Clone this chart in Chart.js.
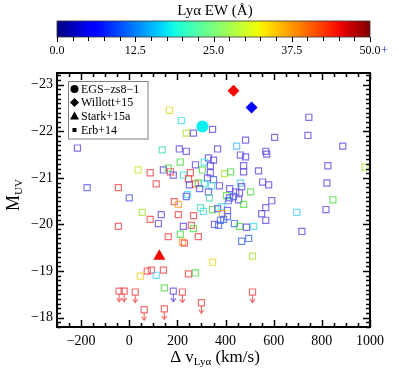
<!DOCTYPE html>
<html>
<head>
<meta charset="utf-8">
<script src="https://cdn.jsdelivr.net/npm/chart.js@4.4.1/dist/chart.umd.min.js"></script>
<style>
  html, body { margin: 0; padding: 0; background: #fff; }
  #wrap { width: 399px; height: 369px; }
</style>
</head>
<body>
<div id="wrap"><canvas id="chart" width="399" height="369"></canvas></div>
<script>
"use strict";

// Erb+14 detections: velocity offset (km/s), M_UV, Lya EW (A)
const erbDv = [
	-215, 167, 217, 237, 267, 346, 137, 208, 237, 212, 367, 746, 483, 604, 742, 887,
	446, 462, 483, 567, 571, 329, 350, 312, 275, 337, 304, 337, 396, 421, 475, 475,
	537, 825, 979, 37, 87, 142, 162, 171, 183, 225, 254, -175, -45, 112, 0, 246,
	250, 275, 287, 325, 350, 312, 342, 375, 292, 329, 333, 417, 442, 462, 467, 458,
	504, 554, 579, 821, 404, 417, 433, 412, 454, 475, 592, 567, 846, 242, 237, 187,
	204, 296, 308, 346, 367, 383, 408, 387, 408, 550, 696, 817, 54, 133, 204, 267,
	87, 121, -45, 225, 258, 267, 354, 371, 379, 392, 437, 458, 487, 517, 567, 717,
	162, 212, 221, 229, 287, 467, 496, 346, 512, 75, 92, 142, 46, 112, 246, 275, 146
];
const erbMuv = [
	-21.64, -22.45, -22.23, -21.96, -21.96, -22.04, -21.60, -21.62, -21.57, -21.34, -21.62, -22.30, -21.81, -21.87, -21.91, -21.68,
	-21.68, -21.49, -21.45, -21.57, -21.51, -21.43, -21.38, -21.34, -21.28, -21.26, -21.17, -21.11, -21.09, -21.13, -21.26, -21.13,
	-21.15, -21.26, -21.23, -21.17, -21.11, -21.17, -21.21, -21.13, -21.06, -21.06, -21.11, -20.79, -20.79, -20.87, -20.57, -20.98,
	-20.85, -20.87, -20.89, -21.00, -20.96, -20.87, -20.83, -20.83, -20.77, -20.70, -20.57, -20.77, -20.70, -20.89, -20.81, -20.68,
	-20.70, -20.91, -20.85, -20.89, -20.62, -20.57, -20.60, -20.51, -20.53, -20.43, -20.51, -20.36, -20.53, -20.64, -20.60, -20.49,
	-20.43, -20.36, -20.28, -20.32, -20.34, -20.38, -20.30, -20.23, -20.17, -20.23, -20.26, -20.32, -20.26, -20.21, -20.21, -20.19,
	-20.11, -20.02, -19.96, -19.96, -19.98, -19.91, -20.00, -19.98, -20.09, -20.11, -20.02, -19.96, -19.94, -19.96, -20.09, -19.85,
	-19.74, -19.79, -19.62, -19.60, -19.74, -19.64, -19.70, -19.19, -19.32, -19.00, -19.02, -19.02, -18.89, -18.91, -18.94, -18.96, -18.64
];
const erbEw = [
	4, 32, 19, 29, 4, 4, 22, 4, 4, 25, 4, 4, 4, 4, 4, 4,
	14, 4, 4, 4, 4, 4, 4, 19, 4, 4, 25, 4, 29, 25, 4, 4,
	4, 4, 29, 31, 45, 4, 25, 45, 4, 19, 45, 7, 45, 45, 8, 45,
	4, 45, 25, 4, 9, 19, 19, 4, 4, 4, 22, 4, 4, 15, 4, 4,
	25, 4, 4, 4, 25, 4, 9, 9, 4, 25, 4, 4, 25, 19, 4, 45,
	37, 22, 19, 25, 4, 19, 4, 37, 9, 4, 15, 4, 29, 4, 45, 45,
	45, 4, 45, 4, 45, 25, 4, 9, 9, 9, 9, 25, 4, 19, 4, 4,
	45, 25, 37, 45, 45, 9, 9, 32, 29, 45, 45, 45, 33, 17, 45, 25, 25
];

// Erb+14 upper limits on M_UV (drawn with down arrows)
const limDv = [-42, -21, 25, 62, 146, 183, 221, 300, 512];
const limMuv = [-18.57, -18.57, -18.55, -18.17, -18.19, -18.57, -18.55, -18.32, -18.55];
const limEw = [45, 45, 45, 45, 45, 4, 45, 45, 45];

const egsDv = [304];
const egsMuv = [-22.10];
const egsEw = [18];

const willottDv = [433, 508];
const willottMuv = [-22.87, -22.51];
const willottEw = [45, 6];

const starkDv = [125];
const starkMuv = [-19.32];
const starkEw = [45];

const xTicks = [-200, 0, 200, 400, 600, 800, 1000];
const yTicks = [-23, -22, -21, -20, -19, -18];
const ewTicks = [0, 12.5, 25, 37.5, 50];
const legendLabels = ["EGS\u2212zs8\u22121", "Willott+15", "Stark+15a", "Erb+14"];

const SERIF = "'Liberation Serif', 'DejaVu Serif', serif";

// matplotlib jet
const jetR = [[0, 0], [0.35, 0], [0.66, 1], [0.89, 1], [1, 0.5]];
const jetG = [[0, 0], [0.125, 0], [0.375, 1], [0.64, 1], [0.91, 0], [1, 0]];
const jetB = [[0, 0.5], [0.11, 1], [0.34, 1], [0.65, 0], [1, 0]];
const interp = (seg, t) => {
	for (let i = 1; i < seg.length; i++) {
		if (t <= seg[i][0]) {
			const a = seg[i - 1];
			const b = seg[i];
			return a[1] + ((b[1] - a[1]) * (t - a[0])) / (b[0] - a[0]);
		}
	}
	return seg[seg.length - 1][1];
};
const jet = (ew) => {
	const t = Math.min(Math.max(ew / 50, 0), 1);
	const r = Math.round(255 * interp(jetR, t));
	const g = Math.round(255 * interp(jetG, t));
	const b = Math.round(255 * interp(jetB, t));
	return `rgb(${r},${g},${b})`;
};

// the open squares are drawn paler than the colorbar
const squareStops = [
	[0, 105, 60, 220],
	[6, 95, 80, 235],
	[10, 60, 110, 240],
	[15, 80, 200, 250],
	[19, 60, 225, 225],
	[22, 70, 225, 170],
	[25, 80, 220, 70],
	[29, 170, 230, 50],
	[32, 230, 220, 40],
	[37, 250, 160, 50],
	[45, 240, 70, 70],
	[50, 200, 40, 40],
];
const squareColor = (ew) => {
	let i = 1;
	while (i < squareStops.length - 1 && ew > squareStops[i][0]) i++;
	const a = squareStops[i - 1];
	const b = squareStops[i];
	const f = Math.min(Math.max((ew - a[0]) / (b[0] - a[0]), 0), 1);
	const c = [1, 2, 3].map((k) => Math.round(a[k] + (b[k] - a[k]) * f));
	return `rgba(${c[0]},${c[1]},${c[2]},0.78)`;
};

const toPoints = (xs, ys) => xs.map((x, i) => ({ x: x, y: ys[i] }));
const minus = (v) => (v < 0 ? "\u2212" + Math.abs(v) : String(v));

const decor = {
	id: "decor",
	afterDatasetsDraw(chart) {
		const ctx = chart.ctx;
		const meta = chart.getDatasetMeta(4);
		ctx.save();
		meta.data.forEach((pt, i) => {
			const c = squareColor(limEw[i]);
			ctx.strokeStyle = c;
			ctx.lineWidth = 1.2;
			ctx.beginPath();
			ctx.moveTo(pt.x, pt.y + 3);
			ctx.lineTo(pt.x, pt.y + 10);
			ctx.stroke();
			ctx.beginPath();
			ctx.moveTo(pt.x - 2.5, pt.y + 7);
			ctx.lineTo(pt.x, pt.y + 10.5);
			ctx.lineTo(pt.x + 2.5, pt.y + 7);
			ctx.stroke();
		});
		ctx.restore();
	},
	afterDraw(chart) {
		const ctx = chart.ctx;
		const area = chart.chartArea;
		const xs = chart.scales.x;
		const ys = chart.scales.y;
		ctx.save();

		// frame + inward ticks
		ctx.strokeStyle = "#000";
		ctx.lineWidth = 2;
		ctx.strokeRect(area.left, area.top, area.right - area.left, area.bottom - area.top);
		ctx.lineWidth = 1.5;
		ctx.beginPath();
		for (let v = -300; v <= 1000; v += 50) {
			const px = Math.round(xs.getPixelForValue(v)) + 0.5;
			const len = v % 200 === 0 ? 7 : 4;
			ctx.moveTo(px, area.bottom);
			ctx.lineTo(px, area.bottom - len);
			ctx.moveTo(px, area.top);
			ctx.lineTo(px, area.top + len);
		}
		for (let k = -232; k <= -178; k++) {
			const py = Math.round(ys.getPixelForValue(k / 10)) + 0.5;
			const len = k % 10 === 0 ? 7 : 4;
			ctx.moveTo(area.left, py);
			ctx.lineTo(area.left + len, py);
			ctx.moveTo(area.right, py);
			ctx.lineTo(area.right - len, py);
		}
		ctx.stroke();

		// legend
		const lx = 68.5;
		const ly = 81.5;
		ctx.fillStyle = "#fff";
		ctx.fillRect(lx, ly, 79.5, 57.5);
		ctx.strokeStyle = "#808080";
		ctx.lineWidth = 1;
		ctx.strokeRect(lx, ly, 79.5, 57.5);
		const rows = [89, 102.5, 116, 130];
		const sx = 74.5;
		ctx.fillStyle = "#000";
		ctx.beginPath();
		ctx.arc(sx, rows[0], 4, 0, Math.PI * 2);
		ctx.fill();
		ctx.beginPath();
		ctx.moveTo(sx - 4.5, rows[1]);
		ctx.lineTo(sx, rows[1] - 4.5);
		ctx.lineTo(sx + 4.5, rows[1]);
		ctx.lineTo(sx, rows[1] + 4.5);
		ctx.closePath();
		ctx.fill();
		ctx.beginPath();
		ctx.moveTo(sx - 4.5, rows[2] + 3.5);
		ctx.lineTo(sx, rows[2] - 4.5);
		ctx.lineTo(sx + 4.5, rows[2] + 3.5);
		ctx.closePath();
		ctx.fill();
		ctx.fillRect(sx - 2, rows[3] - 2, 4, 4);
		ctx.font = "12px " + SERIF;
		ctx.textBaseline = "middle";
		ctx.textAlign = "left";
		legendLabels.forEach((s, i) => ctx.fillText(s, 81, rows[i] + 0.5));

		// colorbar
		const cbTop = 21;
		const cbBot = 37;
		const grad = ctx.createLinearGradient(area.left, 0, area.right, 0);
		for (let i = 0; i <= 50; i++) grad.addColorStop(i / 50, jet(i));
		ctx.fillStyle = grad;
		ctx.fillRect(area.left, cbTop, area.right - area.left, cbBot - cbTop);
		ctx.strokeStyle = "#333";
		ctx.lineWidth = 0.8;
		ctx.strokeRect(area.left, cbTop, area.right - area.left, cbBot - cbTop);
		const ewPx = (ew) => area.left + ((area.right - area.left) * ew) / 50;
		ctx.strokeStyle = "#000";
		ctx.lineWidth = 1;
		ctx.beginPath();
		for (let k = 0; k <= 20; k++) {
			const px = Math.round(ewPx(k * 2.5)) + 0.5;
			ctx.moveTo(px, cbBot);
			ctx.lineTo(px, cbBot + (k % 5 === 0 ? 5 : 4));
		}
		ctx.stroke();
		ctx.fillStyle = "#000";
		ctx.font = "12px " + SERIF;
		ctx.textAlign = "center";
		ctx.textBaseline = "middle";
		ewTicks.forEach((v) => ctx.fillText(v.toFixed(1), ewPx(v), 51));
		const lastW = ctx.measureText("50.0").width;
		ctx.fillStyle = "#2233bb";
		ctx.textAlign = "left";
		ctx.fillText("+", ewPx(50) + lastW / 2 + 0.5, 51);
		ctx.fillStyle = "#000";
		ctx.textAlign = "center";
		ctx.textBaseline = "alphabetic";
		ctx.font = "15px " + SERIF;
		ctx.fillText("Ly\u03b1 EW (\u00c5)", 215, 15);

		// x title: Δ v_Lyα (km/s)
		const big = "17px " + SERIF;
		const small = "11px " + SERIF;
		ctx.font = big;
		const w1 = ctx.measureText("\u0394 v").width;
		const w3 = ctx.measureText(" (km/s)").width;
		ctx.font = small;
		const w2 = ctx.measureText("Ly\u03b1").width;
		let tx = 215 - (w1 + w2 + w3) / 2;
		ctx.textAlign = "left";
		ctx.font = big;
		ctx.fillText("\u0394 v", tx, 362);
		tx += w1;
		ctx.font = small;
		ctx.fillText("Ly\u03b1", tx, 365);
		tx += w2;
		ctx.font = big;
		ctx.fillText(" (km/s)", tx, 362);

		// y title: M_UV
		ctx.translate(19, 195);
		ctx.rotate(-Math.PI / 2);
		ctx.font = "18px " + SERIF;
		const mw = ctx.measureText("M").width;
		ctx.font = small;
		const uw = ctx.measureText("UV").width;
		const y0 = -(mw + uw) / 2;
		ctx.font = "18px " + SERIF;
		ctx.fillText("M", y0, 0);
		ctx.font = small;
		ctx.fillText("UV", y0 + mw, 3);

		ctx.restore();
	},
};

const ctx = document.getElementById("chart").getContext("2d");
const chart = new Chart(ctx, {
	type: "scatter",
	data: {
		datasets: [
			{
				label: legendLabels[0],
				data: toPoints(egsDv, egsMuv),
				pointStyle: "circle",
				pointRadius: 6,
				pointBackgroundColor: egsEw.map(jet),
				pointBorderWidth: 0,
				order: 0,
			},
			{
				label: legendLabels[1],
				data: toPoints(willottDv, willottMuv),
				pointStyle: "rectRot",
				pointRadius: 6,
				pointBackgroundColor: willottEw.map(jet),
				pointBorderWidth: 0,
				order: 0,
			},
			{
				label: legendLabels[2],
				data: toPoints(starkDv, starkMuv),
				pointStyle: "triangle",
				pointRadius: 7,
				pointBackgroundColor: starkEw.map(jet),
				pointBorderWidth: 0,
				order: 0,
			},
			{
				label: legendLabels[3],
				data: toPoints(erbDv, erbMuv),
				pointStyle: "rect",
				pointRadius: 4.3,
				pointBackgroundColor: "rgba(0,0,0,0)",
				pointBorderColor: erbEw.map(squareColor),
				pointBorderWidth: 1.2,
				order: 2,
			},
			{
				label: legendLabels[3] + " limits",
				data: toPoints(limDv, limMuv),
				pointStyle: "rect",
				pointRadius: 4.3,
				pointBackgroundColor: "rgba(0,0,0,0)",
				pointBorderColor: limEw.map(squareColor),
				pointBorderWidth: 1.2,
				order: 2,
			},
		],
	},
	options: {
		responsive: false,
		animation: false,
		devicePixelRatio: 1,
		events: [],
		layout: { padding: { top: 73, right: 29, left: 0, bottom: 0 } },
		plugins: { legend: { display: false }, tooltip: { enabled: false } },
		scales: {
			x: {
				type: "linear",
				min: -300,
				max: 1000,
				afterBuildTicks: (s) => {
					s.ticks = xTicks.map((v) => ({ value: v }));
				},
				afterFit: (s) => {
					s.height = 42;
				},
				grid: { display: false, drawTicks: false },
				border: { display: false },
				ticks: {
					padding: 6,
					color: "#000",
					font: { family: SERIF, size: 14 },
					maxRotation: 0,
					callback: (v) => minus(v),
				},
			},
			y: {
				type: "linear",
				min: -23.25,
				max: -17.8,
				reverse: true,
				afterBuildTicks: (s) => {
					s.ticks = yTicks.map((v) => ({ value: v }));
				},
				afterFit: (s) => {
					s.width = 57;
				},
				grid: { display: false, drawTicks: false },
				border: { display: false },
				ticks: {
					padding: 4,
					color: "#000",
					font: { family: SERIF, size: 14 },
					callback: (v) => minus(v),
				},
			},
		},
	},
	plugins: [decor],
});
</script>
</body>
</html>
